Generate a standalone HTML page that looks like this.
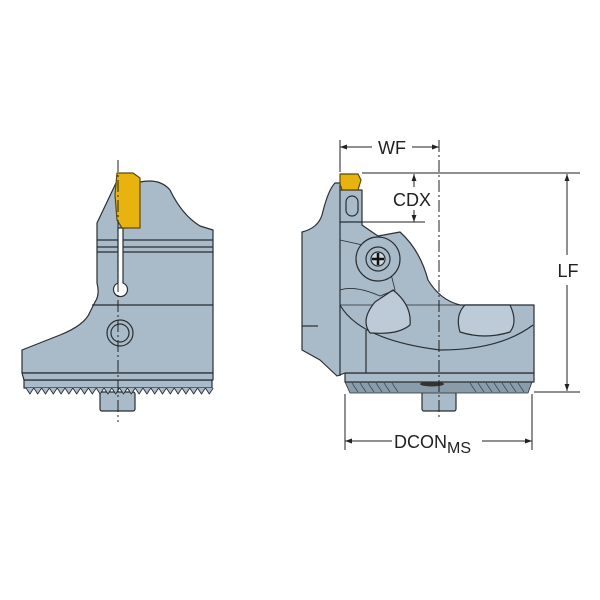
<!DOCTYPE html>
<html><head><meta charset="utf-8"><style>
html,body{margin:0;padding:0;background:#fff;}
svg{display:block}
text{font-family:"Liberation Sans",sans-serif;fill:#222}
</style></head><body>
<svg width="600" height="600" viewBox="0 0 600 600" xmlns="http://www.w3.org/2000/svg">
<defs>
<marker id="a" viewBox="0 0 10 10" refX="10" refY="5" markerWidth="9" markerHeight="7" orient="auto-start-reverse"><path d="M0,1.5 L10,5 L0,8.5 z" fill="#222"/></marker>
</defs>
<g stroke="#2a2f33" stroke-width="1.2" fill="#a9bac8" stroke-linejoin="round">
<!-- LEFT VIEW -->
<rect x="100" y="392" width="35" height="19" rx="2"/>
<path d="M24,380 L212,380 L212,388 L24,388 z"/>
<path d="M22,373 L22,350 L60,335 Q85,325 90,312 L95,302 Q100,295 97,283 L97,223 L116,183 L140,182 Q160,178 170,190 Q182,215 200,226 L213,230 L213,373 z"/>
<path d="M22,373 L213,373 L213,380 L24,380 z"/>
<line x1="97" y1="240" x2="213" y2="240"/>
<line x1="97" y1="247" x2="213" y2="247"/>
<line x1="97" y1="252" x2="213" y2="252"/>
<line x1="92" y1="305" x2="213" y2="305"/>
<path d="M118,228 L123,228 L123,283 A7,7 0 1 1 118,283 z" fill="#fff"/>
<path d="M117,173 L133,173 L140,178 L140,228 L122,228 L117,220 L115,195 z" fill="#e8b30e" stroke="#5a4a10"/>
<circle cx="120" cy="333" r="13" fill="#a9bac8"/>
<circle cx="120" cy="333" r="9" fill="#a9bac8"/>
<path d="M26,388 l3.9,6 l3.9,-6 l3.9,6 l3.9,-6 l3.9,6 l3.9,-6 l3.9,6 l3.9,-6 l3.9,6 l3.9,-6 l3.9,6 l3.9,-6 l3.9,6 l3.9,-6 l3.9,6 l3.9,-6 l3.9,6 l3.9,-6 l3.9,6 l3.9,-6 l3.9,6 l3.9,-6 l3.9,6 l3.9,-6 l3.9,6 l3.9,-6 l3.9,6 l3.9,-6 l3.9,6 l3.9,-6 l3.9,6 l3.9,-6 l3.9,6 l3.9,-6 l3.9,6 l3.9,-6 l3.9,6 l3.9,-6 l3.9,6 l3.9,-6 l3.9,6 l3.9,-6 l3.9,6 l3.9,-6 l3.9,6 l3.9,-6 l3.9,6 l3.9,-6" fill="#a9bac8" stroke-width="0.9"/>

<!-- RIGHT VIEW -->
<rect x="422" y="390" width="34" height="21" rx="2"/>
<path d="M345,382 L532,382 L528,393 L350,393 z" fill="#8a9caa" stroke-width="0.8"/>
<g stroke="#3a444c" stroke-width="0.7">
<path d="M352,383 l6,9 M360,383 l6,9 M368,383 l6,9 M376,383 l6,9 M384,383 l6,9 M392,383 l6,9 M470,383 l6,9 M478,383 l6,9 M486,383 l6,9 M494,383 l6,9 M502,383 l6,9 M510,383 l6,9 M518,383 l6,9"/>
</g>
<path d="M345,373 L534,373 L534,382 L345,382 z"/>
<path d="M302,232 Q318,228 322,215 Q328,190 335,183 L340,183 L340,190 L362,190 L362,225 Q372,232 378,236 L400,232 Q420,250 428,280 Q440,300 460,305 L534,305 L534,373 L345,373 L337,376 L320,360 L302,350 z"/>
<line x1="340" y1="190" x2="340" y2="376"/>
<line x1="340" y1="222" x2="362" y2="222"/>
<line x1="366" y1="330" x2="366" y2="373"/>
<line x1="302" y1="326" x2="318" y2="326"/>
<path d="M340,305 Q360,340 440,350 Q500,350 533,325" fill="none"/>
<path d="M340,305 L534,305" fill="none" stroke-width="0.8"/>
<path d="M370,333 Q360,320 375,302 L393,290 Q412,305 410,325 Q398,335 372,333 z" fill="#bccbd7"/>
<path d="M460,332 Q455,315 465,305 L510,305 Q518,322 510,332 Q485,340 460,332 z" fill="#bccbd7"/>
<path d="M340,240 L340,290 Q355,285 380,296 L395,290 L385,250 z" fill="none" stroke-width="0.8"/>
<rect x="346" y="196" width="12" height="20" rx="6" fill="#a9bac8"/>
<circle cx="378" cy="259" r="22" fill="#a9bac8"/>
<circle cx="378" cy="259" r="12" fill="#a9bac8"/>
<circle cx="378" cy="259" r="7" fill="#cfd9e0"/>
<path d="M372,259 h12 M378,253 v12" stroke="#111" stroke-width="2.5"/>
<path d="M340,174 L358,174 L361,180 L358,190 L342,190 L340,184 z" fill="#e8b30e" stroke="#5a4a10"/>
<ellipse cx="432" cy="384" rx="12" ry="2.5" fill="#333" stroke="none"/>
</g>
<g stroke="#222" stroke-width="1" stroke-dasharray="12,3,2,3" fill="none">
<line x1="118" y1="160" x2="118" y2="422"/>
<line x1="439" y1="140" x2="439" y2="420"/>
</g>
<g stroke="#222" stroke-width="1" fill="none">
<line x1="340" y1="140" x2="340" y2="172"/>
<line x1="362" y1="173" x2="580" y2="173"/>
<line x1="362" y1="222" x2="425" y2="222"/>
<line x1="534" y1="392" x2="580" y2="392"/>
<line x1="345" y1="394" x2="345" y2="450"/>
<line x1="532" y1="394" x2="532" y2="450"/>
<line x1="340" y1="147" x2="372" y2="147" marker-start="url(#a)"/>
<line x1="412" y1="147" x2="439" y2="147" marker-end="url(#a)"/>
<line x1="414" y1="174" x2="414" y2="187" marker-start="url(#a)"/>
<line x1="414" y1="210" x2="414" y2="222" marker-end="url(#a)"/>
<line x1="567" y1="174" x2="567" y2="255" marker-start="url(#a)"/>
<line x1="567" y1="285" x2="567" y2="391" marker-end="url(#a)"/>
<line x1="345" y1="441" x2="392" y2="441" marker-start="url(#a)"/>
<line x1="482" y1="441" x2="532" y2="441" marker-end="url(#a)"/>
</g>
<text x="392" y="154" font-size="18" text-anchor="middle">WF</text>
<text x="412" y="206" font-size="18" text-anchor="middle">CDX</text>
<text x="568" y="277" font-size="18" text-anchor="middle">LF</text>
<text x="394" y="448" font-size="18">DCON<tspan font-size="16" dy="5">MS</tspan></text>
</svg>
</body></html>
